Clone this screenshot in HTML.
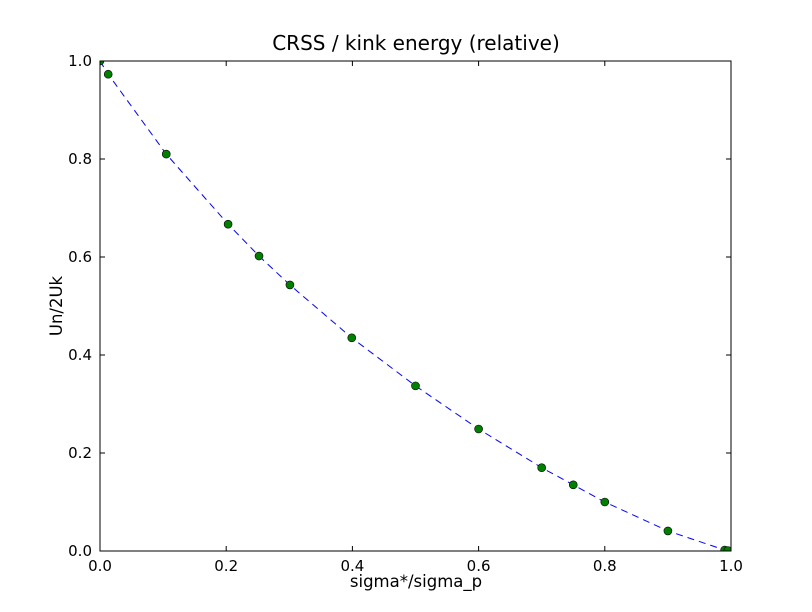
<!DOCTYPE html>
<html><head><meta charset="utf-8">
<style>
html,body{margin:0;padding:0;background:#fff;}
svg{display:block;font-family:"DejaVu Sans","Liberation Sans",sans-serif;}
</style></head>
<body>
<svg id="chart" width="812" height="612">
  <defs><clipPath id="clip"><rect x="100" y="61" width="631" height="490"/></clipPath></defs>
  <rect x="0" y="0" width="812" height="612" fill="#fff"/>
  <g id="plot"></g>
  <g id="series" clip-path="url(#clip)"></g>
  <rect x="100" y="61" width="631" height="490" fill="none" stroke="#000" stroke-width="1"/>
  <text x="416" y="50" text-anchor="middle" font-size="20">CRSS / kink energy (relative)</text>
  <text x="416" y="587" text-anchor="middle" font-size="16.5">sigma*/sigma_p</text>
  <text x="62" y="306" text-anchor="middle" font-size="16.5" transform="rotate(-90 62 306)">Un/2Uk</text>
</svg>
<script>
const xVals = [0, 0.013, 0.105, 0.203, 0.252, 0.301, 0.399, 0.5, 0.6, 0.7, 0.75, 0.8, 0.9, 0.99, 0.995];
const yVals = [1.0, 0.973, 0.81, 0.667, 0.602, 0.543, 0.435, 0.337, 0.249, 0.17, 0.135, 0.1, 0.041, 0.002, 0.001];
const xTicks = [0, 0.2, 0.4, 0.6, 0.8, 1.0];
const yTicks = [0, 0.2, 0.4, 0.6, 0.8, 1.0];
const tickLabels = ["0.0", "0.2", "0.4", "0.6", "0.8", "1.0"];

const L = 100, R = 731, T = 61, B = 551;
const sx = v => L + v * (R - L);
const sy = v => B - v * (B - T);
const NS = "http://www.w3.org/2000/svg";
const g = document.getElementById('plot');
const s = document.getElementById('series');
function mk(tag, attrs) {
  const e = document.createElementNS(NS, tag);
  for (const k in attrs) e.setAttribute(k, attrs[k]);
  return e;
}

xTicks.forEach((t, i) => {
  const x = sx(t);
  const a = mk('line', {x1: x, y1: B, x2: x, y2: B - 5, stroke: '#000'});
  
  
  g.appendChild(a);
  const b = mk('line', {x1: x, y1: T, x2: x, y2: T + 5, stroke: '#000'});
  
  
  g.appendChild(b);
  const tx = mk('text', {x: x, y: B + 20, 'text-anchor': 'middle', 'font-size': 15});
  tx.textContent = tickLabels[i];
  
  
  g.appendChild(tx);
});
yTicks.forEach((t, i) => {
  const y = sy(t);
  const a = mk('line', {x1: L, y1: y, x2: L + 5, y2: y, stroke: '#000'});
  
  
  g.appendChild(a);
  const b = mk('line', {x1: R, y1: y, x2: R - 5, y2: y, stroke: '#000'});
  
  
  g.appendChild(b);
  const tx = mk('text', {x: L - 8, y: y + 5, 'text-anchor': 'end', 'font-size': 15});
  tx.textContent = tickLabels[i];
  
  
  g.appendChild(tx);
});

const pts = xVals.map((x, i) => sx(x) + ',' + sy(yVals[i])).join(' ');
const line = mk('polyline', {points: pts, fill: 'none', stroke: '#0000ff', 'stroke-width': 1, 'stroke-dasharray': '7,5'});


s.appendChild(line);

xVals.forEach((x, i) => {
  const c = mk('circle', {cx: sx(x), cy: sy(yVals[i]), r: 4, fill: '#008000', stroke: '#000', 'stroke-width': 0.6});
  
  
  s.appendChild(c);
});
</script>
</body></html>
